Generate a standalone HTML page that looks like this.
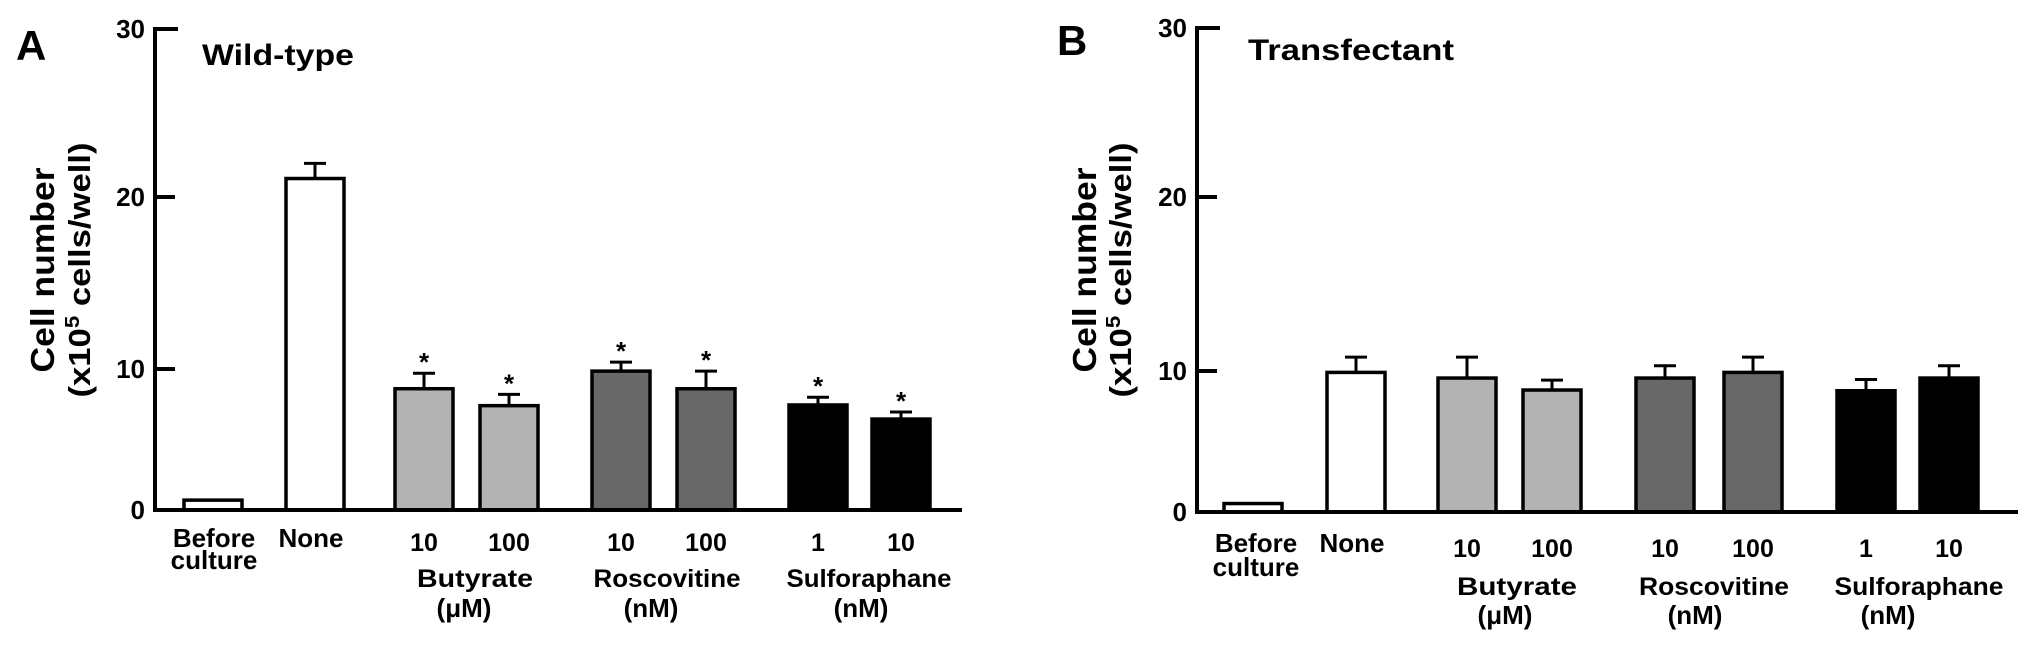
<!DOCTYPE html>
<html><head><meta charset="utf-8"><style>
html,body{margin:0;padding:0;background:#fff;}
svg{display:block;font-family:"Liberation Sans",Arial,sans-serif;font-weight:bold;}
</style></head><body>
<svg id="chart" width="2031" height="651" viewBox="0 0 2031 651" xmlns="http://www.w3.org/2000/svg"></svg>
<script>
const categories = ["Before culture","None","Butyrate 10","Butyrate 100","Roscovitine 10","Roscovitine 100","Sulforaphane 1","Sulforaphane 10"];
const tickValues = [0,10,20,30];
const tickLabels = ["0","10","20","30"];
const wildValues = [0.7,21.1,8.6,7.4,9.85,8.6,7.45,6.45];
const wildErrors = [0,0.9,1.1,0.8,0.55,1.25,0.55,0.5];
const wildSignif = [false,false,true,true,true,true,true,true];
const transValues = [0.6,9.9,9.5,8.65,9.5,9.9,8.6,9.5];
const transErrors = [0,0.9,1.3,0.7,0.8,0.9,0.8,0.8];
const transSignif = [false,false,false,false,false,false,false,false];
const fills = ["#ffffff","#ffffff","#b3b3b3","#b3b3b3","#686868","#686868","#000000","#000000"];
const doseLabels = ["","","10","100","10","100","1","10"];

const NS="http://www.w3.org/2000/svg";
const svg=document.getElementById('chart');
function mk(tag,attrs,parent){const e=document.createElementNS(NS,tag);for(const k in attrs)e.setAttribute(k,attrs[k]);(parent||svg).appendChild(e);return e;}
function txt(s,attrs,parent){const e=mk('text',attrs,parent);e.textContent=s;return e;}

const panels=[
 {key:'a',letter:'A',letterX:16,letterY:60,title:'Wild-type',titleX:202,titleY:65,titleLen:152,
  axisX:155,axisEnd:962,tickPix:[510,369,197,29],centers:[213,315,424,509,621,706,818,901],
  vals:wildValues,errs:wildErrors,sig:wildSignif,
  yt1X:42,yt2X:78,ytY:270,
  before:[214,547,569],none:[311,547],numY:551,
  groups:[[475,587,116,464,617],[667,587,147,651,617],[869,587,165,861,617]]},
 {key:'b',letter:'B',letterX:1057,letterY:55,title:'Transfectant',titleX:1248,titleY:60,titleLen:206,
  axisX:1197,axisEnd:2018,tickPix:[512,371,197,28],centers:[1253,1356,1467,1552,1665,1753,1866,1949],
  vals:transValues,errs:transErrors,sig:transSignif,
  yt1X:1084,yt2X:1119,ytY:270,
  before:[1256,552,576],none:[1352,552],numY:557,
  groups:[[1517,595,120,1505,624],[1714,595,150,1695,624],[1919,595,169,1888,624]]}
];
const groupNames=["Butyrate","Roscovitine","Sulforaphane"];
const unitNames=["(μM)","(nM)","(nM)"];
const barW=58;

panels.forEach(p=>{
  const g=mk('g',{});
  
  
  function y(v){
    for(let i=0;i<tickValues.length-1;i++){
      const a=tickValues[i],b=tickValues[i+1];
      if(v<=b||i===tickValues.length-2){return p.tickPix[i]+(v-a)/(b-a)*(p.tickPix[i+1]-p.tickPix[i]);}
    }
  }
  const base=y(0);
  const l=txt(p.letter,{x:p.letterX,y:p.letterY,'font-size':42},g);
  
  
  const t=txt(p.title,{x:p.titleX,y:p.titleY,'font-size':30,textLength:p.titleLen,lengthAdjust:'spacingAndGlyphs'},g);
  
  
  const ya=mk('line',{x1:p.axisX,y1:y(30)-2,x2:p.axisX,y2:base+2,stroke:'#000','stroke-width':4},g);
  
  
  tickValues.forEach((v,i)=>{
    const tk=mk('line',{x1:p.axisX,y1:y(v),x2:p.axisX+(i===3?23:20),y2:y(v),stroke:'#000','stroke-width':4},g);
    
    
    const tl=txt(tickLabels[i],{x:p.axisX-10,y:y(v)+9,'font-size':26,'text-anchor':'end'},g);
    
    
  });
  const yt=mk('g',{transform:`translate(${p.yt1X},${p.ytY}) rotate(-90)`},g);
  
  
  txt('Cell number',{x:0,y:12,'font-size':33,'text-anchor':'middle',textLength:205,lengthAdjust:'spacingAndGlyphs'},yt);
  const l2=txt('',{x:0,y:12+(p.yt2X-p.yt1X),'font-size':31,'text-anchor':'middle',textLength:255,lengthAdjust:'spacingAndGlyphs'},yt);
  l2.innerHTML='(x10<tspan dy="-11" font-size="20">5</tspan><tspan dy="11"> cells/well)</tspan>';
  categories.forEach((c,i)=>{
    const cx=p.centers[i],v=p.vals[i],e=p.errs[i];
    if(e>0){
      const el=mk('line',{x1:cx,y1:y(v),x2:cx,y2:y(v+e),stroke:'#000','stroke-width':3},g);
      
      
      const cap=mk('line',{x1:cx-11,y1:y(v+e),x2:cx+11,y2:y(v+e),stroke:'#000','stroke-width':3},g);
      
      
    }
    const r=mk('rect',{x:cx-barW/2,y:y(v),width:barW,height:base-y(v),fill:fills[i],stroke:'#000','stroke-width':3.5},g);
    
    
    if(p.sig[i]){
      const s=txt('*',{x:cx,y:y(v+e)-2,'font-size':26,'text-anchor':'middle'},g);
      
      
    }
    if(doseLabels[i]){
      const d=txt(doseLabels[i],{x:cx,y:p.numY,'font-size':25,'text-anchor':'middle'},g);
      
      
    }
  });
  const xa=mk('line',{x1:p.axisX-2,y1:base,x2:p.axisEnd,y2:base,stroke:'#000','stroke-width':4},g);
  
  
  const b1=txt('Before',{x:p.before[0],y:p.before[1],'font-size':26,'text-anchor':'middle'},g);
  
  
  const b2=txt('culture',{x:p.before[0],y:p.before[2],'font-size':26,'text-anchor':'middle'},g);
  
  
  const nn=txt('None',{x:p.none[0],y:p.none[1],'font-size':26,'text-anchor':'middle'},g);
  
  
  p.groups.forEach((gr,k)=>{
    const gn=txt(groupNames[k],{x:gr[0],y:gr[1],'font-size':25,'text-anchor':'middle',textLength:gr[2],lengthAdjust:'spacingAndGlyphs'},g);
    
    
    const un=txt(unitNames[k],{x:gr[3],y:gr[4],'font-size':26,'text-anchor':'middle'},g);
    
    
  });
});
</script>
</body></html>
